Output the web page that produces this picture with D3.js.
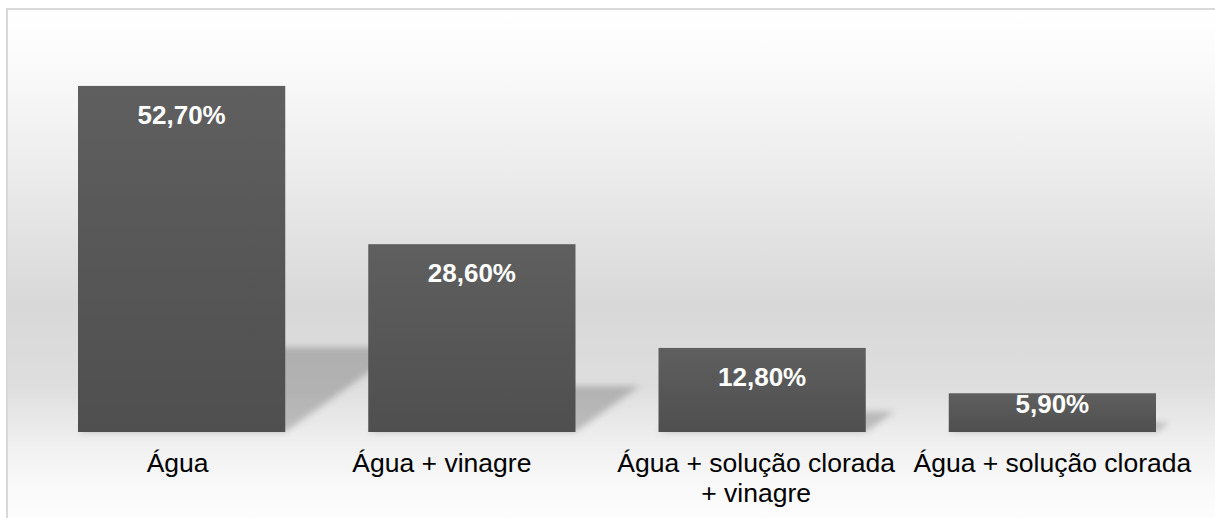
<!DOCTYPE html>
<html>
<head>
<meta charset="utf-8">
<script src="https://cdn.jsdelivr.net/npm/d3@7"></script>
<style>
  body { margin: 0; background: #fff; }
  text { font-family: "Liberation Sans", Arial, sans-serif; }
</style>
</head>
<body>
<svg id="chart" width="1215" height="518"></svg>
<script>
'use strict';

var categories = ['Água', 'Água + vinagre', 'Água + solução clorada + vinagre', 'Água + solução clorada'];
var values = [52.7, 28.6, 12.8, 5.9];
var valueLabels = ['52,70%', '28,60%', '12,80%', '5,90%'];

var width = 1215, height = 518;
var svg = d3.select('#chart');
var defs = svg.append('defs');

// background: light top, grey band behind the bars, light again under the axis
var bg = defs.append('linearGradient').attr('id', 'bg').attr('x1', 0).attr('y1', 0).attr('x2', 0).attr('y2', 1);
[[0, '#ffffff'], [0.1, '#fbfbfb'], [0.3, '#ededed'], [0.57, '#d8d8d8'], [0.73, '#dedede'],
 [0.84, '#f0f0f0'], [0.92, '#f9f9f9'], [1, '#fefefe']].forEach(function (s) {
	bg.append('stop').attr('offset', s[0]).attr('stop-color', s[1]);
});

var barGrad = defs.append('linearGradient').attr('id', 'barGrad').attr('x1', 0).attr('y1', 0).attr('x2', 0).attr('y2', 1);
barGrad.append('stop').attr('offset', 0).attr('stop-color', '#5f5f5f');
barGrad.append('stop').attr('offset', 1).attr('stop-color', '#4f4f4f');

defs.append('filter').attr('id', 'blur').attr('x', -0.2).attr('y', -0.5).attr('width', 1.4).attr('height', 2)
	.append('feGaussianBlur').attr('stdDeviation', 3);

svg.append('rect').attr('x', 7).attr('y', 9).attr('width', width).attr('height', height)
	.attr('fill', 'url(#bg)').attr('stroke', '#d9d9d9').attr('stroke-width', 2);

var x = d3.scaleBand().domain(categories).range([36.5, 1197.5]).paddingInner(0.286).paddingOuter(0.143);
var y = d3.scaleLinear().domain([0, 60]).range([432, 38]);
var base = y(0);

// perspective shadows, skewed back to the right
svg.append('g').attr('filter', 'url(#blur)')
	.selectAll('path').data(values).enter().append('path')
	.attr('d', function (d, i) {
		var x0 = x(categories[i]), x1 = x0 + x.bandwidth();
		var sh = 0.245 * (base - y(d)), s = 1.4 * sh;
		return 'M' + x0 + ',' + base + 'L' + x1 + ',' + base + 'L' + (x1 + s) + ',' + (base - sh) +
			'L' + (x0 + s) + ',' + (base - sh) + 'Z';
	})
	.attr('fill', '#000').attr('fill-opacity', 0.2);

svg.append('g').selectAll('rect').data(values).enter().append('rect')
	.attr('x', function (d, i) { return x(categories[i]); })
	.attr('y', function (d) { return y(d); })
	.attr('width', x.bandwidth())
	.attr('height', function (d) { return base - y(d); })
	.attr('fill', 'url(#barGrad)');

// value labels sit near the bar top, pushed up for very short bars
svg.append('g').selectAll('text').data(values).enter().append('text')
	.attr('x', function (d, i) { return x(categories[i]) + x.bandwidth() / 2; })
	.attr('y', function (d) { return Math.min(y(d) + 38, base - 19); })
	.attr('text-anchor', 'middle')
	.attr('fill', '#fff').attr('font-weight', 'bold').attr('font-size', 26)
	.text(function (d, i) { return valueLabels[i]; });

// category labels, wrapped to the category width like the original
var nudge = [-4, -30, -6, 0];
var labels = svg.append('g').selectAll('text').data(categories).enter().append('text')
	.attr('text-anchor', 'middle').attr('font-size', 26.5).attr('fill', '#000')
	.attr('y', 471.5);

labels.each(function (c, i) {
	var t = d3.select(this);
	var cx = x(c) + x.bandwidth() / 2 + nudge[i];
	var words = c.split(' '), line = [], lines = [];
	var probe = t.append('tspan');
	words.forEach(function (w) {
		line.push(w);
		probe.text(line.join(' '));
		if (probe.node().getComputedTextLength() > x.step() - 4 && line.length > 1) {
			line.pop();
			lines.push(line.join(' '));
			line = [w];
		}
	});
	lines.push(line.join(' '));
	probe.remove();
	lines.forEach(function (l, k) {
		t.append('tspan').attr('x', cx).attr('dy', k ? 30 : 0).text(l);
	});
});
</script>
</body>
</html>
